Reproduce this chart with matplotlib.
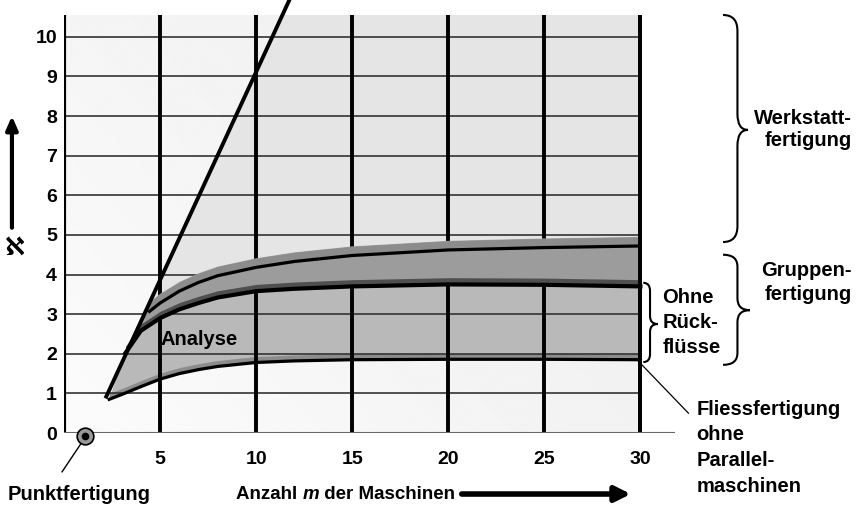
import matplotlib
matplotlib.use("Agg")
import matplotlib.pyplot as plt
import numpy as np
from matplotlib.path import Path
from matplotlib.patches import PathPatch

plt.rcParams['font.family'] = ['Liberation Sans', 'DejaVu Sans']
plt.rcParams['font.weight'] = 'bold'

# curves (m = number of machines, k = value)
m_top = [4.45, 5, 6, 7, 8, 10, 12, 15, 20, 25, 30]
k_top = [3.07, 3.28, 3.58, 3.80, 3.97, 4.18, 4.33, 4.48, 4.62, 4.68, 4.72]

m_mid = [3.2, 4, 5, 6, 7, 8, 10, 12, 15, 20, 25, 30]
k_mid = [2.02, 2.58, 2.90, 3.12, 3.28, 3.42, 3.58, 3.64, 3.70, 3.75, 3.74, 3.70]

m_low = [2.35, 3, 4, 5, 6, 7, 8, 10, 12, 15, 20, 25, 30]
k_low = [0.85, 0.97, 1.17, 1.36, 1.50, 1.60, 1.68, 1.78, 1.82, 1.85, 1.86, 1.86, 1.85]

# steep line (Werkstatt boundary)
m_diag = [2.2, 11.73]
k_diag = [0.92, 10.93]

x_ticks = [5, 10, 15, 20, 25, 30]
y_ticks = list(range(0, 11))
punkt = (1.1, -0.08)

FS = 14.5
top_edge = np.array(k_top) + 0.23
mid_edge = np.array(k_mid) + 0.17
low_edge = np.array(k_low) + 0.15

fig = plt.figure(figsize=(8.61, 5.11), dpi=100)
ax = fig.add_axes([64 / 861, 78 / 511, 611 / 861, 418 / 511])
ax.set_xlim(0, 31.8)
ax.set_ylim(0, 10.55)
YTOP = 10.55

# background gradient
gx, gy = np.meshgrid(np.linspace(0, 1, 200), np.linspace(0, 1, 200))
grad = 0.985 - 0.06 * (0.6 * gx + 0.4 * gy)
ax.imshow(grad, extent=[0, 30, 0, YTOP], origin='lower', cmap='gray',
          vmin=0, vmax=1, aspect='auto', zorder=0)

# Werkstatt region right of the steep line
slope = (k_diag[1] - k_diag[0]) / (m_diag[1] - m_diag[0])
m_at_top = m_diag[0] + (YTOP - k_diag[0]) / slope
wx = np.concatenate([[m_top[0], m_at_top, 30], m_top[::-1]])
wy = np.concatenate([[top_edge[0], YTOP, YTOP], top_edge[::-1]])
ax.fill(wx, wy, color='#e5e5e5', lw=0, zorder=1)

# lower band (under the grid)
lx = np.concatenate([m_low, m_mid[::-1]])
ly = np.concatenate([k_low, np.array(k_mid)[::-1]])
ax.fill(lx, ly, color='#b9b9b9', lw=0, zorder=1.5)
ax.fill_between(m_low, k_low, low_edge, color='#8c8c8c', lw=0, zorder=1.6)

# grid
ax.hlines(y_ticks[1:], 0, 30, color='#333333', lw=1.2, zorder=2)
ax.vlines(x_ticks, 0, YTOP, color='black', lw=2.8, zorder=2.1)

# upper band (covers the grid)
ux = np.concatenate([m_mid, m_top[::-1]])
uy = np.concatenate([k_mid, top_edge[::-1]])
ax.fill(ux, uy, color='#9c9c9c', lw=0, zorder=3)
ax.fill_between(m_top, k_top, top_edge, color='#8c8c8c', lw=0, zorder=3.1)
ax.fill_between(m_mid, k_mid, mid_edge, color='#4f4f4f', lw=0, zorder=3.1)

ax.plot(m_top, k_top, color='black', lw=2.3, zorder=4)
ax.plot(m_mid, k_mid, color='black', lw=3, zorder=4)
ax.plot(m_low, k_low, color='black', lw=2.3, zorder=4)
ax.vlines([30], 0, YTOP, color='black', lw=2.8, zorder=4.2)

# steep line
ax.plot(m_diag, k_diag, color='black', lw=2.8, zorder=5, clip_on=False)

# axes lines
ax.vlines([0], 0, YTOP, color='black', lw=3, zorder=5)
ax.hlines([0], 0, 31.8, color='#666666', lw=1.5, zorder=5)
for s in ax.spines.values():
    s.set_visible(False)
ax.set_facecolor('none')

ax.set_xticks(x_ticks)
ax.set_yticks(y_ticks)
ax.tick_params(length=0, labelsize=14)
ax.tick_params(axis='x', pad=13)
ax.tick_params(axis='y', pad=5)
for lab in ax.get_xticklabels() + ax.get_yticklabels():
    lab.set_fontweight('bold')

# Punktfertigung marker
ax.plot(punkt[0], punkt[1], 'o', ms=12, mfc='#999999', mec='black', mew=1.2,
        zorder=6, clip_on=False)
ax.plot(punkt[0], punkt[1], 'o', ms=4.5, color='black', zorder=7, clip_on=False)
ax.plot([0.95, -0.1], [-0.22, -0.98], color='black', lw=1, clip_on=False)
ax.text(0.78, -1.54, 'Punktfertigung', ha='center', va='center', fontsize=FS,
        fontweight='bold')

# x axis label with italic m
FX = 13.5
t1 = ax.text(8.95, -1.54, 'Anzahl ', ha='left', va='center', fontsize=FX,
             fontweight='bold')
fig.canvas.draw()
r = fig.canvas.get_renderer()
bb = t1.get_window_extent(r).transformed(ax.transData.inverted())
t2 = ax.text(bb.x1, -1.54, 'm', ha='left', va='center', fontsize=FX,
             fontweight='bold', style='italic')
bb = t2.get_window_extent(r).transformed(ax.transData.inverted())
ax.text(bb.x1, -1.54, ' der Maschinen', ha='left', va='center', fontsize=FX,
        fontweight='bold')
ax.annotate('', xy=(29.5, -1.54), xytext=(20.7, -1.54), annotation_clip=False,
            arrowprops=dict(arrowstyle='-|>,head_length=0.9,head_width=0.45',
                            color='black', lw=4, shrinkA=0, shrinkB=0))

# y axis label
ax.annotate('', xy=(-2.71, 8.0), xytext=(-2.71, 5.18), annotation_clip=False,
            arrowprops=dict(arrowstyle='-|>,head_length=0.8,head_width=0.35',
                            color='black', lw=3, shrinkA=0, shrinkB=0))
ax.text(-2.55, 4.67, 'ℵ', ha='center', va='center', fontsize=18,
        fontweight='bold', family=['DejaVu Sans'])

ax.text(5.0, 2.35, 'Analyse', ha='left', va='center', fontsize=FS,
        fontweight='bold', zorder=8)


def brace(x0, x_mid, x_tip, y_bot, y_top, y_tip, r=0.3):
    verts = [(x0, y_top), (x_mid, y_top), (x_mid, y_top - r),
             (x_mid, y_tip + r),
             (x_mid, y_tip), (x_tip, y_tip),
             (x_mid, y_tip), (x_mid, y_tip - r),
             (x_mid, y_bot + r),
             (x_mid, y_bot), (x0, y_bot)]
    codes = [Path.MOVETO, Path.CURVE3, Path.CURVE3, Path.LINETO,
             Path.CURVE3, Path.CURVE3, Path.CURVE3, Path.CURVE3,
             Path.LINETO, Path.CURVE3, Path.CURVE3]
    ax.add_patch(PathPatch(Path(verts, codes), fill=False, lw=1.5,
                           color='black', clip_on=False))


brace(34.3, 35.05, 35.6, 4.82, 10.55, 7.65, r=0.4)
brace(34.3, 35.05, 35.7, 1.72, 4.5, 3.1)
brace(30.15, 30.5, 30.9, 1.79, 3.79, 2.75, r=0.2)

ax.text(41.0, 7.66, 'Werkstatt-\nfertigung', ha='right', va='center',
        fontsize=FS, fontweight='bold', multialignment='right', linespacing=1.25)
ax.text(41.0, 3.8, 'Gruppen-\nfertigung', ha='right', va='center',
        fontsize=FS, fontweight='bold', multialignment='right', linespacing=1.32)
ax.text(31.15, 3.66, 'Ohne\nRück-\nflüsse', ha='left', va='top',
        fontsize=FS, fontweight='bold', linespacing=1.4)
ax.text(32.9, 0.84, 'Fliessfertigung\nohne\nParallel-\nmaschinen', ha='left',
        va='top', fontsize=FS, fontweight='bold', linespacing=1.44)
ax.plot([29.8, 32.5], [1.86, 0.5], color='black', lw=0.9, clip_on=False, zorder=6)

fig.savefig('out.png', dpi=100)
